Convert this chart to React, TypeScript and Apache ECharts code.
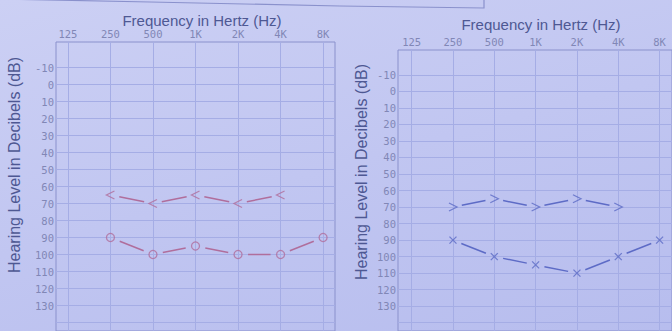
import React, { useEffect, useRef } from "react";
import * as echarts from "echarts";

// Frequencies (octave index 0..6)
const freqLabels = ["125", "250", "500", "1K", "2K", "4K", "8K"];
const octaves = [0, 1, 2, 3, 4, 5, 6];
const dbLabels = [-10, 0, 10, 20, 30, 40, 50, 60, 70, 80, 90, 100, 110, 120, 130];
const dbGrid = [-10, 0, 10, 20, 30, 40, 50, 60, 70, 80, 90, 100, 110, 120, 130, 140];

// Left chart
const leftBone: (number | null)[] = [null, 65, 70, 65, 70, 65, null]; // "<"
const leftAir: (number | null)[] = [null, 90, 100, 95, 100, 100, 90]; // "o"
// Right chart
const rightBone: (number | null)[] = [null, 70, 65, 70, 65, 70, null]; // ">"
const rightAir: (number | null)[] = [null, 90, 100, 105, 110, 100, 90]; // "x"

const RED = "#b06e9c";
const BLUE = "#5d6bc6";
const GRID = "#a5ade5";
const FRAME = "#8a91cc";
const LABEL = "#8187b6";
const TITLE = "#4e5893";

const toPoints = (vals: (number | null)[]) =>
  octaves.map((x, i) => [x, vals[i]]).filter((p) => p[1] !== null) as number[][];

const toSegments = (vals: (number | null)[]) => {
  const pts = toPoints(vals);
  const segs: number[][] = [];
  for (let i = 0; i < pts.length - 1; i++) segs.push([pts[i][0], pts[i][1], pts[i + 1][0], pts[i + 1][1]]);
  return segs;
};

const segSeries = (vals: (number | null)[], grid: number, color: string, gap: number) => ({
  type: "custom",
  xAxisIndex: grid,
  yAxisIndex: grid,
  data: toSegments(vals),
  silent: true,
  renderItem: (params: any, api: any) => {
    const a = api.coord([api.value(0), api.value(1)]);
    const b = api.coord([api.value(2), api.value(3)]);
    const dx = b[0] - a[0];
    const dy = b[1] - a[1];
    const len = Math.sqrt(dx * dx + dy * dy);
    const ux = dx / len;
    const uy = dy / len;
    return {
      type: "line",
      shape: { x1: a[0] + ux * gap, y1: a[1] + uy * gap, x2: b[0] - ux * gap, y2: b[1] - uy * gap },
      style: { stroke: color, lineWidth: 1.5 },
    };
  },
});

const markSeries = (vals: (number | null)[], grid: number, color: string, symbol: string, size: any) => ({
  type: "scatter",
  xAxisIndex: grid,
  yAxisIndex: grid,
  data: toPoints(vals),
  symbol,
  symbolSize: size,
  itemStyle: { color: "rgba(0,0,0,0)", borderColor: color, borderWidth: 1.3 },
  silent: true,
});

const xAxisFor = (grid: number, min: number, max: number) => ({
  gridIndex: grid,
  type: "value",
  position: "top",
  min,
  max,
  axisLine: { show: false },
  axisTick: { show: false, customValues: octaves },
  axisLabel: {
    customValues: octaves,
    formatter: (v: number) => freqLabels[Math.round(v)],
    margin: 3,
    fontFamily: "DejaVu Sans Mono",
    fontSize: 10.5,
    lineHeight: 11,
    color: LABEL,
  },
  splitLine: { show: true, lineStyle: { color: GRID, width: 1 } },
});

const yAxisFor = (grid: number) => ({
  gridIndex: grid,
  type: "value",
  inverse: true,
  min: -25,
  max: 145,
  axisLine: { show: false },
  axisTick: { show: false, customValues: dbGrid },
  axisLabel: {
    customValues: dbLabels,
    margin: 2,
    fontFamily: "DejaVu Sans Mono",
    fontSize: 10.5,
    color: LABEL,
  },
  splitLine: { show: true, lineStyle: { color: GRID, width: 1 } },
});

export default function App() {
  const ref = useRef<HTMLDivElement>(null);
  useEffect(() => {
    if (!ref.current) return;
    const chart = echarts.init(ref.current, null, { renderer: "svg" });
    chart.setOption({
      animation: false,
      backgroundColor: "transparent",
      grid: [
        { left: 56, top: 42, width: 279, height: 289, show: true, borderColor: FRAME, borderWidth: 1, backgroundColor: "transparent" },
        { left: 398, top: 50, width: 278, height: 282, show: true, borderColor: FRAME, borderWidth: 1, backgroundColor: "transparent" },
      ],
      xAxis: [xAxisFor(0, -0.28, 6.28), xAxisFor(1, -0.33, 6.3)],
      yAxis: [yAxisFor(0), yAxisFor(1)],
      graphic: [
        {
          type: "polyline",
          shape: { points: [[0, -1], [150, 2], [340, 6], [484, 8], [484, -1]] },
          style: { stroke: FRAME, fill: "none", lineWidth: 1.2 },
        },
        {
          type: "text", x: 202, y: 20,
          style: { text: "Frequency in Hertz (Hz)", font: "15px 'Liberation Sans'", fill: TITLE, textAlign: "center", textVerticalAlign: "middle" },
        },
        {
          type: "text", x: 541, y: 24,
          style: { text: "Frequency in Hertz (Hz)", font: "15px 'Liberation Sans'", fill: TITLE, textAlign: "center", textVerticalAlign: "middle" },
        },
        {
          type: "text", x: 14, y: 165, rotation: Math.PI / 2,
          style: { text: "Hearing Level in Decibels (dB)", font: "16px 'Liberation Sans'", fill: TITLE, textAlign: "center", textVerticalAlign: "middle" },
        },
        {
          type: "text", x: 361, y: 172, rotation: Math.PI / 2,
          style: { text: "Hearing Level in Decibels (dB)", font: "16px 'Liberation Sans'", fill: TITLE, textAlign: "center", textVerticalAlign: "middle" },
        },
      ],
      series: [
        segSeries(leftBone, 0, RED, 9),
        segSeries(leftAir, 0, RED, 10),
        markSeries(leftBone, 0, RED, "path://M9,0 L0,4.5 L9,9", [8, 8]),
        markSeries(leftAir, 0, RED, "circle", 8),
        segSeries(rightBone, 1, BLUE, 9),
        segSeries(rightAir, 1, BLUE, 9),
        markSeries(rightBone, 1, BLUE, "path://M0,0 L9,4.5 L0,9", [8, 8]),
        markSeries(rightAir, 1, BLUE, "path://M0,0 L8,8 M8,0 L0,8", [7, 7]),
      ],
    });
    return () => chart.dispose();
  }, []);
  return (
    <div
      style={{
        position: "fixed",
        left: 0,
        top: 0,
        width: 672,
        height: 331,
        background: "linear-gradient(165deg, #ccd0f4 0%, #c1c6f1 50%, #b7bdee 100%)",
        overflow: "hidden",
      }}
    >
      <div ref={ref} style={{ width: 672, height: 331 }} />
    </div>
  );
}
